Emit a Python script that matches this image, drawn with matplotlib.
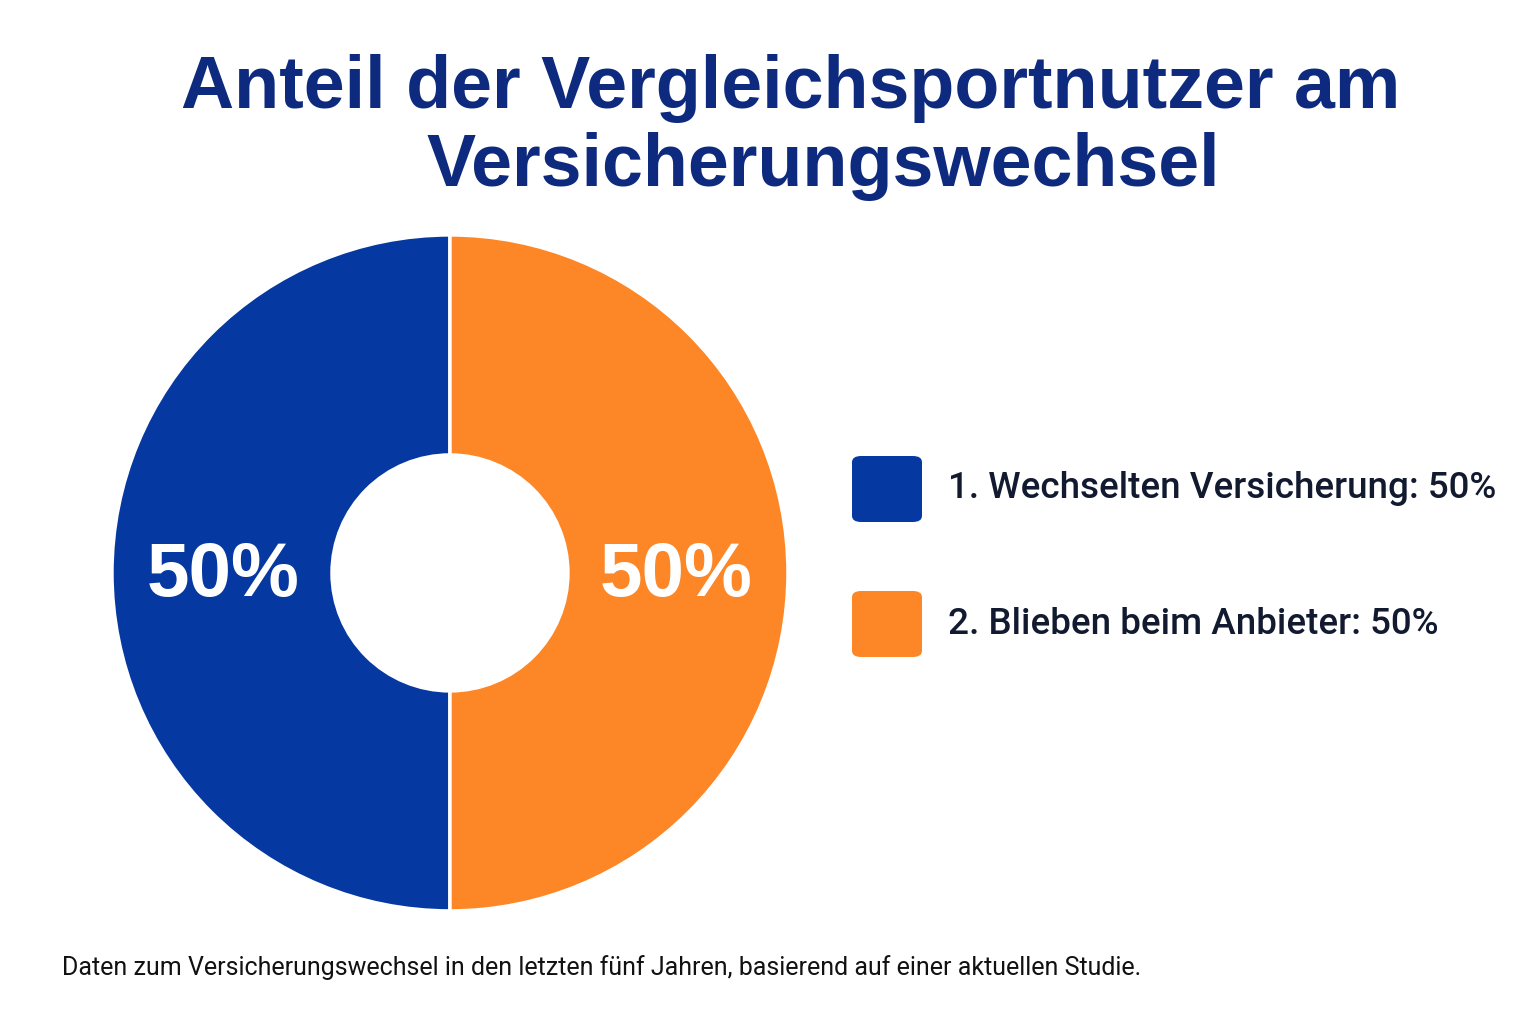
import matplotlib.pyplot as plt
from matplotlib.patches import FancyBboxPatch
import numpy as np

# Daten
kategorien = ["Wechselten Versicherung", "Blieben beim Anbieter"]
anteile = [50, 50]
farben = ["#0538A0", "#FD8626"]

titel_zeilen = ["Anteil der Vergleichsportnutzer am", "Versicherungswechsel"]
fussnote = "Daten zum Versicherungswechsel in den letzten fünf Jahren, basierend auf einer aktuellen Studie."

fig = plt.figure(figsize=(15.36, 10.24), dpi=100)
fig.patch.set_facecolor("white")

W, H = 1536, 1024

# Titel (zwei Zeilen)
for txt, xc, yb in zip(titel_zeilen, [791, 823], [108, 186]):
    fig.text(xc / W, (H - yb) / H, txt, ha="center", va="baseline", fontsize=53,
             fontweight="bold", family="Liberation Sans", color="#0D2A7E")

# Donut
ax = fig.add_axes([0.0729, 0.1104, 0.4401, 0.6602])
wedges, _ = ax.pie(anteile, colors=farben, startangle=90, counterclock=True,
                   radius=1, wedgeprops=dict(width=0.651, edgecolor="white", linewidth=2.5))
for w, a in zip(wedges, anteile):
    mid = np.deg2rad((w.theta1 + w.theta2) / 2)
    ax.text(0.67 * np.cos(mid), 0.67 * np.sin(mid) - 0.01, f"{a}%", ha="center", va="center",
            fontsize=55, fontweight="bold", family="Liberation Sans", color="white")
ax.set_xlim(-1, 1)
ax.set_ylim(-1, 1)
ax.set_aspect("equal")
ax.axis("off")

# Legende
ys = [489, 624]
for i, (k, a, c) in enumerate(zip(kategorien, anteile, farben)):
    yc = ys[i]
    box = FancyBboxPatch((852 / W, (H - yc - 33) / H), 70 / W, 66 / H,
                         boxstyle="round,pad=0,rounding_size=0.006",
                         transform=fig.transFigure, facecolor=c, edgecolor="none")
    fig.patches.append(box)
    fig.text(948 / W, (H - yc) / H, f"{i + 1}. {k}: {a}%", ha="left", va="center",
             fontsize=26.5, fontweight="medium", family="Roboto", color="#121A30")

# Fußnote
fig.text(62 / W, (H - 968) / H, fussnote, ha="left", va="center",
         fontsize=18, family="Roboto", color="#111111")

fig.savefig("out.png", dpi=100, facecolor="white")
